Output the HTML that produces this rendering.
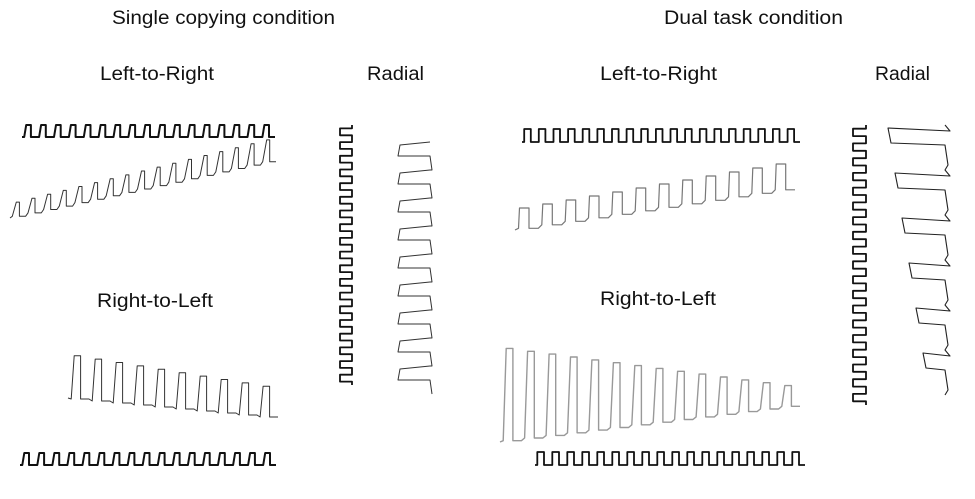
<!DOCTYPE html>
<html><head><meta charset="utf-8"><style>
html,body{margin:0;padding:0;background:#fff;width:975px;height:499px;overflow:hidden}
svg{display:block}
text{font-family:"Liberation Sans",sans-serif;fill:#111}
</style></head><body>
<svg id="s" width="975" height="499" viewBox="0 0 975 499" xmlns="http://www.w3.org/2000/svg">
<text x="112" y="24" font-size="19" textLength="223" lengthAdjust="spacingAndGlyphs">Single copying condition</text>
<text x="664" y="24" font-size="19" textLength="179" lengthAdjust="spacingAndGlyphs">Dual task condition</text>
<text x="100" y="80" font-size="19" textLength="114" lengthAdjust="spacingAndGlyphs">Left-to-Right</text>
<text x="367" y="80" font-size="19" textLength="57" lengthAdjust="spacingAndGlyphs">Radial</text>
<text x="600" y="80" font-size="19" textLength="117" lengthAdjust="spacingAndGlyphs">Left-to-Right</text>
<text x="875" y="80" font-size="19" textLength="55" lengthAdjust="spacingAndGlyphs">Radial</text>
<text x="97" y="307" font-size="19" textLength="116" lengthAdjust="spacingAndGlyphs">Right-to-Left</text>
<text x="600" y="305" font-size="19" textLength="116" lengthAdjust="spacingAndGlyphs">Right-to-Left</text>
</svg>
<script>
var s=document.getElementById('s');
function pl(pts,w,c){var p=document.createElementNS('http://www.w3.org/2000/svg','polyline');p.setAttribute('points',pts.map(a=>a[0].toFixed(1)+','+a[1].toFixed(1)).join(' '));p.setAttribute('fill','none');p.setAttribute('stroke',c||'#111');p.setAttribute('stroke-width',w||1.6);p.setAttribute('stroke-linejoin','round');s.appendChild(p);}
function hw(x0,x1,yb0,yb1,a0,a1,n,sk,w,c){var pts=[[x0,yb0]];var P=(x1-x0)/n;for(var i=0;i<n;i++){var xa=x0+i*P+P*0.15,xb=x0+i*P+P*0.6,xc=x0+(i+1)*P;var t=(i+0.5)/n;var yb=yb0+(yb1-yb0)*t,a=a0+(a1-a0)*t;pts.push([xa,yb],[xa+sk,yb-a],[xb,yb-a],[xb,yb],[xc,yb]);}pl(pts,w,c);}
function vw(y0,y1,xb,a,n,w){var pts=[[xb,y0]];var P=(y1-y0)/n;for(var i=0;i<n;i++){var ya=y0+i*P+P*0.25,yb=y0+i*P+P*0.75,yc=y0+(i+1)*P;pts.push([xb,ya],[xb-a,ya],[xb-a,yb],[xb,yb],[xb,yc]);}pl(pts,w);}
hw(22,275,137,137,12,12,17,2,2);
hw(10,276,218,160,14,22,17,4,1,'#333');
hw(68,278,398,418,44,30,10,3,1,'#333');
hw(20,276,465,465,12,12,17,2,2);
hw(522,800,142,142,13,13,19,0,1.8);
hw(515,795,230,188,20,26,12,1,1.2,'#777');
hw(500,800,442,405,95,18,14,3,1.4,'#999');
hw(535,805,465,465,13,13,18,0,1.8);
vw(125,385,352,12,19,1.8);
vw(125,405,866,13,19,1.8);
(function(){var pts=[],y=142;for(var i=0;i<9;i++){var h=28;pts.push([430,y],[400,y+3],[398,y+h*0.5],[430,y+h*0.5],[432,y+h]);y+=h;}pl(pts,1,'#333');})();
(function(){var pts=[[945,125]];var y=125;for(var i=0;i<6;i++){var x=888+i*7;pts.push([950,y+6],[x,y+3],[x+3,y+18],[945,y+20],[948,y+40],[945,y+45]);y+=45;}pl(pts,1.1,'#222');})();
</script>
</body></html>
